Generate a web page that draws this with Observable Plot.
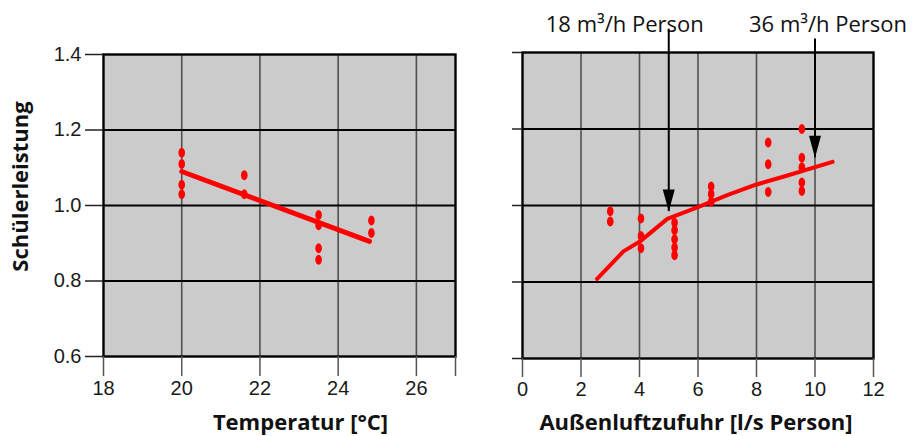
<!DOCTYPE html>
<html>
<head>
<meta charset="utf-8">
<script src="https://cdn.jsdelivr.net/npm/d3@7"></script>
<script src="https://cdn.jsdelivr.net/npm/@observablehq/plot@0.6"></script>
<style>
  html, body { margin: 0; padding: 0; background: #fff; }
  #wrap { position: relative; width: 916px; height: 436px; overflow: hidden; }
  #wrap svg { position: absolute; top: 0; }
</style>
</head>
<body>
<div id="wrap"></div>
<script>
// ---------- data ----------
const yTicks = [0.6, 0.8, 1.0, 1.2, 1.4];
const yGrid = [0.8, 1.0, 1.2];

const tempTicks = [18, 20, 22, 24, 26, 27];
const tempGrid = [20, 22, 24, 26];
const tempPtsX = [20, 20, 20, 20, 21.6, 21.6, 23.5, 23.5, 23.5, 23.5, 24.85, 24.85];
const tempPtsY = [1.14, 1.11, 1.055, 1.03, 1.08, 1.03, 0.975, 0.948, 0.887, 0.856, 0.96, 0.927];
const tempLineX = [20, 24.8];
const tempLineY = [1.09, 0.905];

const airTicks = [0, 2, 4, 6, 8, 10, 12];
const airGrid = [2, 4, 6, 8, 10];
const airPtsX = [3.0, 3.0, 4.05, 4.05, 4.05, 5.2, 5.2, 5.2, 5.2, 5.2, 6.45, 6.45, 6.45, 8.4, 8.4, 8.4, 9.55, 9.55, 9.55, 9.55, 9.55];
const airPtsY = [0.985, 0.958, 0.966, 0.92, 0.888, 0.955, 0.935, 0.912, 0.89, 0.87, 1.05, 1.03, 1.01, 1.165, 1.108, 1.035, 1.20, 1.125, 1.10, 1.06, 1.038];
const airLineX = [2.55, 3.45, 4.0, 4.95, 6.0, 7.0, 8.0, 9.0, 10.6];
const airLineY = [0.808, 0.88, 0.905, 0.965, 0.996, 1.027, 1.055, 1.077, 1.114];

const arrowX = [5, 10];
const arrowTopY = [1.461, 1.435];
const arrowTipY = [0.984, 1.125];
const arrowLabels = ["18 m³/h Person", "36 m³/h Person"];

const yLabel = "Schülerleistung";
const tempLabel = "Temperatur [°C]";
const airLabel = "Außenluftzufuhr [l/s Person]";

// ---------- helpers ----------
const zip = (xs, ys) => xs.map((x, i) => ({x, y: ys[i]}));
const tempPts = zip(tempPtsX, tempPtsY);
const tempLine = zip(tempLineX, tempLineY);
const airPts = zip(airPtsX, airPtsY);
const airLine = zip(airLineX, airLineY);
const arrows = arrowX.map((x, i) => ({x, y1: arrowTopY[i], y2: arrowTipY[i], label: arrowLabels[i]}));

const ellipse = {
  draw(ctx) {
    const rx = 3.3, ry = 5, k = 0.5523;
    ctx.moveTo(rx, 0);
    ctx.bezierCurveTo(rx, k * ry, k * rx, ry, 0, ry);
    ctx.bezierCurveTo(-k * rx, ry, -rx, k * ry, -rx, 0);
    ctx.bezierCurveTo(-rx, -k * ry, -k * rx, -ry, 0, -ry);
    ctx.bezierCurveTo(k * rx, -ry, rx, -k * ry, rx, 0);
    ctx.closePath();
  }
};
const arrowHead = {
  draw(ctx) {
    ctx.moveTo(0, 0);
    ctx.lineTo(-6, -22);
    ctx.lineTo(6, -22);
    ctx.closePath();
  }
};

const RED = "#ff0000";
const BG = "#cbcbcb";
const TITLE_FONT = "'Open Sans', Lato, sans-serif";
const tickStyle = {fontFamily: "'Liberation Sans', Arial, sans-serif", fontSize: 20, fill: "#1a1a1a"};

// ---------- left panel ----------
const left = Plot.plot({
  width: 470, height: 436,
  marginLeft: 103, marginRight: 15, marginTop: 54, marginBottom: 80,
  x: {domain: [18, 27]},
  y: {domain: [0.6, 1.4]},
  style: {background: "transparent", overflow: "visible"},
  marks: [
    Plot.frame({fill: BG, stroke: null}),
    Plot.gridX(tempGrid, {stroke: "#505050", strokeOpacity: 1, strokeWidth: 1.6}),
    Plot.gridY(yGrid, {stroke: "#000", strokeOpacity: 1, strokeWidth: 2}),
    Plot.frame({stroke: "#000", strokeWidth: 2.4}),
    Plot.axisX(tempTicks, {tickSize: 20, tickPadding: 4, stroke: "#555", strokeWidth: 1.5,
      tickFormat: d => d === 27 ? "" : String(d), label: null, ...tickStyle}),
    Plot.axisY(yTicks, {tickSize: 18, tickPadding: 4, stroke: "#222", strokeWidth: 1.5,
      tickFormat: d3.format(".1f"), label: null, ...tickStyle}),
    Plot.line(tempLine, {x: "x", y: "y", stroke: RED, strokeWidth: 5}),
    Plot.dot(tempPts, {x: "x", y: "y", symbol: ellipse, fill: RED, stroke: null}),
    Plot.text([tempLabel], {frameAnchor: "bottom", dx: 21, dy: 66, lineAnchor: "middle", textAnchor: "middle",
      fontFamily: TITLE_FONT, fontWeight: "bold", fontSize: 22, fill: "#111"}),
    Plot.text([yLabel], {frameAnchor: "left", dx: -83, dy: -19, rotate: -90, lineAnchor: "middle", textAnchor: "middle",
      fontFamily: TITLE_FONT, fontWeight: "bold", fontSize: 22, fill: "#111"})
  ]
});
left.style.left = "0px";

// ---------- right panel ----------
const right = Plot.plot({
  width: 458, height: 436,
  marginLeft: 64, marginRight: 43, marginTop: 52, marginBottom: 78,
  x: {domain: [0, 12]},
  y: {domain: [0.6, 1.4]},
  style: {background: "transparent", overflow: "visible"},
  marks: [
    Plot.frame({fill: BG, stroke: null}),
    Plot.gridX(airGrid, {stroke: "#505050", strokeOpacity: 1, strokeWidth: 1.6}),
    Plot.gridY(yGrid, {stroke: "#000", strokeOpacity: 1, strokeWidth: 2}),
    Plot.frame({stroke: "#000", strokeWidth: 2.4}),
    Plot.axisX(airTicks, {tickSize: 19, tickPadding: 4, stroke: "#555", strokeWidth: 1.5,
      tickFormat: d => String(d), label: null, ...tickStyle}),
    Plot.axisY(yTicks, {tickSize: 10, tickPadding: 4, stroke: "#222", strokeWidth: 1.5,
      tickFormat: () => "", label: null, ...tickStyle}),
    Plot.line(airLine, {x: "x", y: "y", stroke: RED, strokeWidth: 4, curve: "linear"}),
    Plot.dot(airPts, {x: "x", y: "y", symbol: ellipse, fill: RED, stroke: null}),
    Plot.ruleX(arrows, {x: "x", y1: "y1", y2: "y2", stroke: "#000", strokeWidth: 2}),
    Plot.dot(arrows, {x: "x", y: "y2", symbol: arrowHead, fill: "#000", stroke: null}),
    Plot.text(arrows.slice(0, 1), {x: "x", text: "label", dx: -44, frameAnchor: "top", dy: -28,
      lineAnchor: "middle", textAnchor: "middle", fontFamily: TITLE_FONT, fontSize: 22, fill: "#111"}),
    Plot.text(arrows.slice(1, 2), {x: "x", text: "label", dx: 13, frameAnchor: "top", dy: -28,
      lineAnchor: "middle", textAnchor: "middle", fontFamily: TITLE_FONT, fontSize: 22, fill: "#111"}),
    Plot.text([airLabel], {frameAnchor: "bottom", dx: -2, dy: 64, lineAnchor: "middle", textAnchor: "middle",
      fontFamily: TITLE_FONT, fontWeight: "bold", fontSize: 22, fill: "#111"})
  ]
});
right.style.left = "458px";

const wrap = document.getElementById("wrap");
wrap.append(left, right);
</script>
</body>
</html>
